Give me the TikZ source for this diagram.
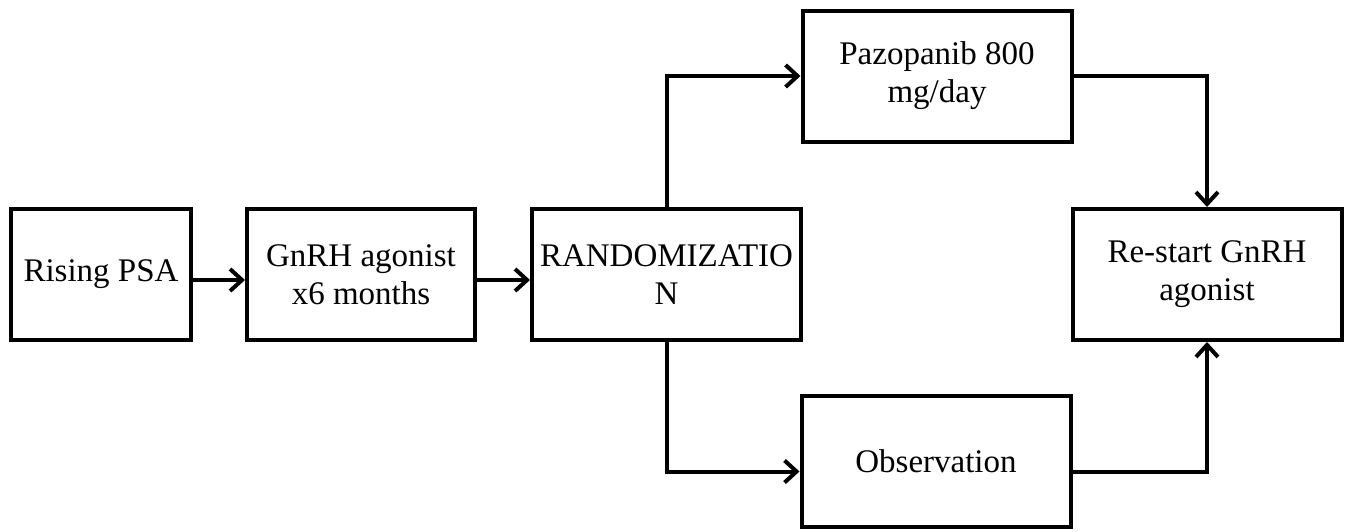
\documentclass[tikz,border=0pt]{standalone}
\usepackage{fontspec}
\setmainfont{Liberation Serif}
\usetikzlibrary{arrows.meta}
\begin{document}
\begin{tikzpicture}[x=0.5pt, y=-0.5pt, line width=2pt, >={Straight Barb[length=6pt,width=11pt]},
  box/.style={draw, minimum width=134.5pt, minimum height=65.5pt, inner sep=0pt, align=center,
    font=\fontsize{16.5}{19}\selectfont}]
  \useasboundingbox (0,0) rectangle (1351,531);
  % boxes
  \node[box, minimum width=90pt] (psa) at (101,274.5) {Rising PSA};
  \node[box, minimum width=114pt] (gnrh) at (361,274.5) {GnRH agonist\\x6 months};
  \node[box] (rand) at (666.5,274.5) {RANDOMIZATIO\\N};
  \node[box] (pazo) at (937,76) {Pazopanib 800\\mg/day};
  \node[box] (obs) at (936,461.5) {Observation};
  \node[box] (restart) at (1207,274.5) {Re-start GnRH\\agonist};
  % connectors
  \draw[->] ([yshift=-2.75pt]psa.east) -- ([yshift=-2.75pt]gnrh.west);
  \draw[->] ([yshift=-2.75pt]gnrh.east) -- ([yshift=-2.75pt]rand.west);
  \draw[->] (rand.north) |- (pazo.west);
  \draw[->] (rand.south) |- ([yshift=-5pt]obs.west);
  \draw[->] (pazo.east) -| (restart.north);
  \draw[->] ([yshift=-5pt]obs.east) -| (restart.south);
\end{tikzpicture}
\end{document}
